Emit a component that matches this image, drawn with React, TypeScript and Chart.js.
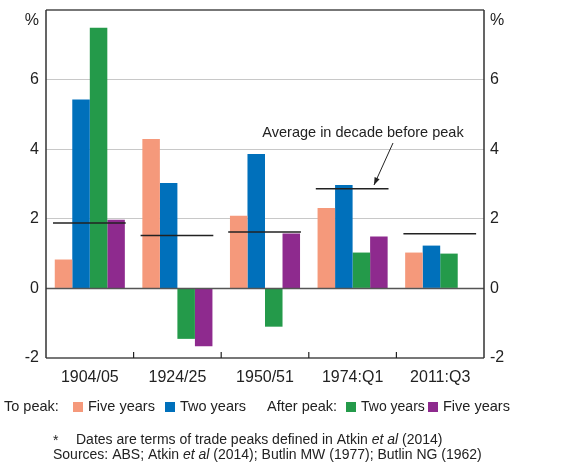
import React, { useEffect, useRef } from "react";
import { Chart, registerables } from "chart.js";
Chart.register(...registerables);

const categories = ["1904/05", "1924/25", "1950/51", "1974:Q1", "2011:Q3"];
const toPeakFive = [0.83, 4.29, 2.09, 2.31, 1.03];
const toPeakTwo = [5.43, 3.03, 3.86, 2.97, 1.23];
const afterPeakTwo = [7.49, -1.45, -1.1, 1.03, 1.0];
const afterPeakFive = [1.97, -1.66, 1.58, 1.49, null];
const decadeAverage = [1.88, 1.52, 1.62, 2.86, 1.57];
const yTicks = [-2, 0, 2, 4, 6];
const seriesLabels = ["Five years", "Two years", "Two years", "Five years"];
const colors = ["#F5997B", "#0070BB", "#249A4A", "#8E2A8E"];
const annotationText = "Average in decade before peak";
// footnote segments: [text, italic]
const footnote1: [string, boolean][] = [
  ["Dates are terms of trade peaks defined in Atkin ", false],
  ["et al", true],
  [" (2014)", false],
];
const footnote2: [string, boolean][] = [
  ["Sources: ABS; Atkin ", false],
  ["et al", true],
  [" (2014); Butlin MW (1977); Butlin NG (1962)", false],
];

const FONT = "'Liberation Sans', Arial, sans-serif";

function drawSegments(ctx: any, segs: [string, boolean][], x: number, y: number, size: number) {
  let cx = x;
  segs.forEach(([t, it]) => {
    ctx.font = `${it ? "italic " : ""}${size}px ${FONT}`;
    ctx.fillText(t, cx, y);
    cx += ctx.measureText(t).width;
  });
}

const overlay = {
  id: "overlay",
  afterDatasetsDraw(chart: any) {
    const { ctx, chartArea, scales } = chart;
    const x = scales.x;
    const y = scales.y;
    const catW = (chartArea.right - chartArea.left) / categories.length;
    ctx.save();
    // zero line
    ctx.strokeStyle = "#555";
    ctx.lineWidth = 1.5;
    ctx.beginPath();
    ctx.moveTo(chartArea.left, y.getPixelForValue(0));
    ctx.lineTo(chartArea.right, y.getPixelForValue(0));
    ctx.stroke();
    // average lines
    ctx.strokeStyle = "#222";
    ctx.lineWidth = 1.5;
    decadeAverage.forEach((v, i) => {
      const cx = x.getPixelForValue(i);
      const py = y.getPixelForValue(v);
      ctx.beginPath();
      ctx.moveTo(cx - catW * 0.42, py);
      ctx.lineTo(cx + catW * 0.41, py);
      ctx.stroke();
    });
    // frame
    ctx.strokeStyle = "#777";
    ctx.lineWidth = 2;
    ctx.beginPath();
    ctx.moveTo(chartArea.left, chartArea.top);
    ctx.lineTo(chartArea.right, chartArea.top);
    ctx.moveTo(chartArea.left, chartArea.bottom);
    ctx.lineTo(chartArea.right, chartArea.bottom);
    ctx.stroke();
    ctx.strokeStyle = "#333";
    ctx.lineWidth = 1.5;
    ctx.beginPath();
    ctx.moveTo(chartArea.left, chartArea.top);
    ctx.lineTo(chartArea.left, chartArea.bottom);
    ctx.moveTo(chartArea.right, chartArea.top);
    ctx.lineTo(chartArea.right, chartArea.bottom);
    ctx.stroke();
    // category boundary ticks
    ctx.strokeStyle = "#222";
    ctx.lineWidth = 1.2;
    for (let i = 1; i < categories.length; i++) {
      const bx = (x.getPixelForValue(i - 1) + x.getPixelForValue(i)) / 2;
      ctx.beginPath();
      ctx.moveTo(bx, chartArea.bottom);
      ctx.lineTo(bx, chartArea.bottom - 6);
      ctx.stroke();
    }
    // % labels
    ctx.fillStyle = "#222";
    ctx.font = `16px ${FONT}`;
    ctx.textBaseline = "middle";
    ctx.textAlign = "right";
    ctx.fillText("%", chartArea.left - 7, chartArea.top + 11);
    ctx.textAlign = "left";
    ctx.fillText("%", chartArea.right + 6, chartArea.top + 11);
    // annotation
    ctx.font = `14.5px ${FONT}`;
    ctx.textAlign = "center";
    ctx.fillText(annotationText, 363, 133);
    const ax0 = 393, ay0 = 143, ax1 = 374, ay1 = 185;
    ctx.strokeStyle = "#222";
    ctx.lineWidth = 1;
    ctx.beginPath();
    ctx.moveTo(ax0, ay0);
    ctx.lineTo(ax1, ay1);
    ctx.stroke();
    const ang = Math.atan2(ay1 - ay0, ax1 - ax0);
    ctx.beginPath();
    ctx.moveTo(ax1, ay1);
    ctx.lineTo(ax1 - 8 * Math.cos(ang - 0.35), ay1 - 8 * Math.sin(ang - 0.35));
    ctx.lineTo(ax1 - 8 * Math.cos(ang + 0.35), ay1 - 8 * Math.sin(ang + 0.35));
    ctx.closePath();
    ctx.fillStyle = "#222";
    ctx.fill();
    // legend
    const ly = 407;
    ctx.font = `14.5px ${FONT}`;
    ctx.textAlign = "left";
    ctx.fillStyle = "#222";
    ctx.fillText("To peak:", 4, ly);
    ctx.fillText("After peak:", 267, ly);
    const boxX = [73, 165, 346, 428];
    boxX.forEach((bx, i) => {
      ctx.fillStyle = colors[i];
      ctx.fillRect(bx, ly - 5, 10, 10);
      ctx.fillStyle = "#222";
      ctx.font = `${i === 2 ? 14 : 14.5}px ${FONT}`;
      ctx.fillText(seriesLabels[i], bx + 15, ly);
    });
    // footnotes
    ctx.fillStyle = "#222";
    ctx.font = `14px ${FONT}`;
    ctx.fillText("*", 53, 441);
    drawSegments(ctx, footnote1, 76, 440, 14);
    drawSegments(ctx, footnote2, 53, 455, 14);
    ctx.restore();
  },
};

export default function App() {
  const ref = useRef<HTMLCanvasElement>(null);
  useEffect(() => {
    document.body.style.margin = "0";
    const data = [toPeakFive, toPeakTwo, afterPeakTwo, afterPeakFive];
    const chart = new Chart(ref.current!, {
      type: "bar",
      data: {
        labels: categories,
        datasets: data.map((d, i) => ({
          label: seriesLabels[i],
          data: d as any,
          backgroundColor: colors[i],
          borderWidth: 0,
          categoryPercentage: 0.8,
          barPercentage: 1.0,
          yAxisID: "y",
        })),
      },
      options: {
        animation: false,
        responsive: false,
        devicePixelRatio: 1,
        layout: { padding: { top: 10, left: 0, right: 0, bottom: 0 } },
        plugins: { legend: { display: false }, tooltip: { enabled: false }, title: { display: false } },
        scales: {
          x: {
            grid: { display: false, drawTicks: false },
            border: { display: false },
            ticks: { font: { size: 16, family: FONT }, color: "#222", padding: 10 },
            afterFit: (s: any) => { s.height = 104; s.paddingLeft = 0; s.paddingRight = 0; },
          },
          y: {
            min: -2,
            max: 8,
            position: "left",
            afterBuildTicks: (s: any) => { s.ticks = yTicks.map((v) => ({ value: v })); },
            grid: { color: "#c8c8c8", lineWidth: 1, drawTicks: false },
            border: { display: false },
            ticks: { font: { size: 16, family: FONT }, color: "#222", padding: 7 },
            afterFit: (s: any) => { s.width = 46; s.paddingTop = 0; s.paddingBottom = 0; },
          },
          y2: {
            min: -2,
            max: 8,
            position: "right",
            afterBuildTicks: (s: any) => { s.ticks = yTicks.map((v) => ({ value: v })); },
            grid: { display: false, drawTicks: false },
            border: { display: false },
            ticks: { font: { size: 16, family: FONT }, color: "#222", padding: 6 },
            afterFit: (s: any) => { s.width = 81; s.paddingTop = 0; s.paddingBottom = 0; },
          },
        },
      },
      plugins: [overlay],
    });
    return () => chart.destroy();
  }, []);
  return <canvas ref={ref} width={565} height={462} style={{ display: "block" }} />;
}
